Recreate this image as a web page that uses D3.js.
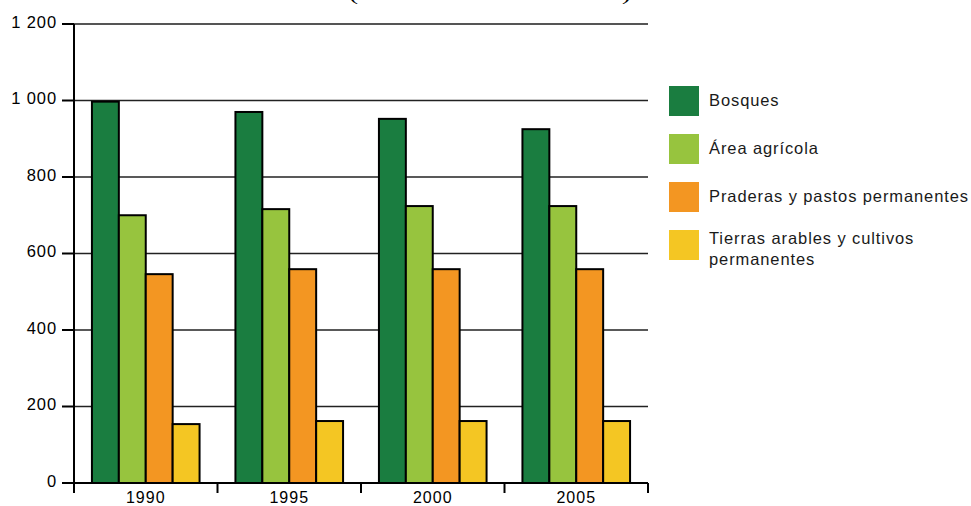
<!DOCTYPE html>
<html>
<head>
<meta charset="utf-8">
<script src="https://cdn.jsdelivr.net/npm/d3@7/dist/d3.min.js"></script>
<style>
  html, body { margin: 0; padding: 0; background: #fff; }
  svg { display: block; }
  text { font-family: "Liberation Sans", Arial, Helvetica, sans-serif; fill: #000; }
</style>
</head>
<body>
<svg id="chart" width="971" height="506"></svg>
<script>
const title = "(en millones de hectáreas)";
const years = ["1990", "1995", "2000", "2005"];
const seriesNames = ["Bosques", "Área agrícola", "Praderas y pastos permanentes", "Tierras arables y cultivos permanentes"];
const legendLines = [["Bosques"], ["Área agrícola"], ["Praderas y pastos permanentes"], ["Tierras arables y cultivos", "permanentes"]];
const seriesColors = ["#1a7d40", "#97c43e", "#f39622", "#f4c623"];
const bosques = [997, 970, 952, 925];
const agricola = [700, 716, 724, 724];
const praderas = [546, 559, 559, 559];
const tierras = [154, 162, 162, 162];
const yTicks = [0, 200, 400, 600, 800, 1000, 1200];
const yTickLabels = ["0", "200", "400", "600", "800", "1 000", "1 200"];

const seriesValues = [bosques, agricola, praderas, tierras];

(function () {
const svg = d3.select("#chart");
const mLeft = 74, mRight = 648, mTop = 24, mBottom = 483;

const x = d3.scaleBand().domain(years).range([mLeft, mRight]).paddingInner(0.25).paddingOuter(0.125);
const xi = d3.scaleBand().domain(d3.range(seriesNames.length)).range([0, x.bandwidth()]).padding(0);
const y = d3.scaleLinear().domain([0, 1200]).range([mBottom, mTop]);

// title (mostly cut off at top, as in the reference)
svg.append("text").attr("x", 490).attr("y", 0).attr("text-anchor", "middle")
  .attr("textLength", 282).attr("lengthAdjust", "spacingAndGlyphs")
  .style("font-family", "'Liberation Serif', serif").style("font-size", "18px").text(title);

// gridlines
svg.append("g").selectAll("line").data(yTicks.filter(d => d > 0)).join("line")
  .attr("x1", mLeft).attr("x2", mRight)
  .attr("y1", d => y(d)).attr("y2", d => y(d))
  .attr("stroke", d => d === 1200 ? "#555" : "#222").attr("stroke-width", d => d === 1200 ? 2 : 1.5);

// y tick marks & labels
svg.append("g").selectAll("line").data(yTicks).join("line")
  .attr("x1", 62).attr("x2", mLeft)
  .attr("y1", d => y(d)).attr("y2", d => y(d))
  .attr("stroke", "#000").attr("stroke-width", 2);
svg.append("g").selectAll("text").data(yTicks).join("text")
  .attr("x", 57).attr("y", d => y(d) - 2).attr("dy", "0.35em")
  .attr("text-anchor", "end").style("font-size", "16.5px").style("letter-spacing", "0.9px")
  .text((d, i) => yTickLabels[i]);

// bars
const groups = svg.append("g").selectAll("g").data(years).join("g")
  .attr("transform", d => `translate(${x(d)},0)`);
groups.selectAll("rect").data((yr, yi) => seriesValues.map((vals, si) => ({si, v: vals[yi]}))).join("rect")
  .attr("x", d => xi(d.si)).attr("width", xi.bandwidth())
  .attr("y", d => y(d.v)).attr("height", d => y(0) - y(d.v))
  .attr("fill", d => seriesColors[d.si]).attr("stroke", "#000").attr("stroke-width", 2);

// y axis line
svg.append("line").attr("x1", mLeft).attr("x2", mLeft).attr("y1", mTop).attr("y2", mBottom + 10)
  .attr("stroke", "#000").attr("stroke-width", 2);
// x axis baseline
svg.append("line").attr("x1", 62).attr("x2", mRight).attr("y1", mBottom).attr("y2", mBottom)
  .attr("stroke", "#000").attr("stroke-width", 2);
// x ticks at band boundaries
const bounds = d3.range(years.length + 1).map(i => mLeft + i * x.step());
svg.append("g").selectAll("line").data(bounds).join("line")
  .attr("x1", d => d).attr("x2", d => d).attr("y1", mBottom).attr("y2", mBottom + 10)
  .attr("stroke", "#000").attr("stroke-width", 2);
svg.append("g").selectAll("text").data(years).join("text")
  .attr("x", d => x(d) + x.bandwidth() / 2).attr("y", 503)
  .attr("text-anchor", "middle").style("font-size", "16px").style("letter-spacing", "1px")
  .text(d => d);

// legend
const lg = svg.append("g").selectAll("g").data(seriesNames).join("g")
  .attr("transform", (d, i) => `translate(669,${86 + i * 48})`);
lg.append("rect").attr("width", 30).attr("height", 30).attr("fill", (d, i) => seriesColors[i]);
lg.each(function(d, i) {
  const lines = legendLines[i];
  const g = d3.select(this);
  const startY = lines.length === 1 ? 20 : 14;
  lines.forEach((ln, k) => {
    g.append("text").attr("x", 40).attr("y", startY + k * 21)
      .style("font-size", "16.5px").style("letter-spacing", "0.9px").style("fill", "#1a1a1a").text(ln);
  });
});
})();
</script>
</body>
</html>
